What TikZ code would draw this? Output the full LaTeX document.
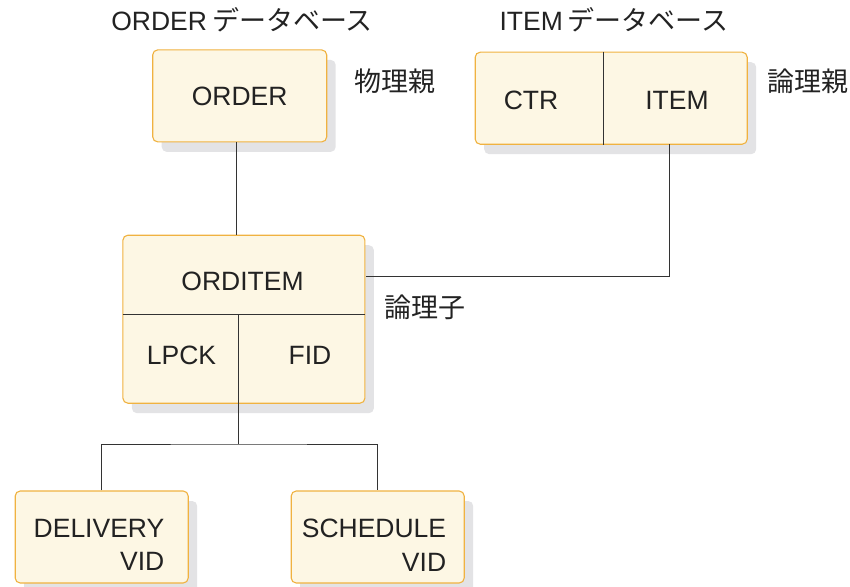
\documentclass[tikz,border=0pt]{standalone}
\usepackage{fontspec}
\setmainfont{Liberation Sans}
\newfontfamily\jpfont{Noto Sans CJK JP}
\usetikzlibrary{shadows}
\definecolor{boxfill}{HTML}{FDF7E4}
\definecolor{boxline}{HTML}{F0B240}
\definecolor{shade}{HTML}{E3E3E5}
\definecolor{ink}{HTML}{222222}
\definecolor{wire}{HTML}{333333}
\tikzset{
  dbbox/.style={draw=boxline, fill=boxfill, line width=1.1pt, rounded corners=5pt,
    drop shadow={shadow xshift=9pt, shadow yshift=-10pt, fill=shade, opacity=1},
    text=ink, font=\fontsize{26.5}{33}\selectfont, inner sep=0pt},
  lbl/.style={text=ink, font=\fontsize{26.5}{30}\selectfont, inner sep=0pt},
  jlbl/.style={text=ink, font=\fontsize{27}{30}\selectfont\jpfont, inner sep=0pt},
  wirestyle/.style={draw=wire, line width=1pt},
}
\begin{document}
\begin{tikzpicture}[x=1pt,y=-1pt]
\useasboundingbox (0,0) rectangle (850,586);
% titles
\node[lbl] (t1) at (242,20) {ORDER\hspace{5pt}{\jpfont\fontsize{27}{30}\selectfont データベース}};
\node[lbl] (t2) at (614,20) {ITEM\hspace{5pt}{\jpfont\fontsize{27}{30}\selectfont データベース}};
% ORDER
\node[dbbox, minimum width=174pt, minimum height=92pt] (order) at (239.7,95.9) {ORDER};
\node[jlbl] (phys) at (395,81) {物理親};
% ITEM db
\node[dbbox, minimum width=272pt, minimum height=92pt] (itembox) at (611.2,98.2) {};
\draw[wirestyle] (itembox.north -| 603.3,0) coordinate (id1) -- (itembox.south -| 603.3,0) coordinate (id2);
\node[lbl] (ctr) at (531,100) {CTR};
\node[lbl] (item) at (677,100) {ITEM};
\node[jlbl] (logp) at (808,81) {論理親};
% ORDITEM
\node[dbbox, minimum width=242pt, minimum height=168pt] (orditem) at (243.9,319.2) {};
\coordinate (hl) at (122.7,314.3);
\coordinate (hr) at (365,314.3);
\draw[wirestyle] (hl) -- (hr);
\coordinate (vd) at (238.3,314.3);
\draw[wirestyle] (vd) -- (orditem.south -| vd);
\node[lbl] (ordt) at (242.5,281.5) {ORDITEM};
\node[lbl] (lpck) at (181.5,355) {LPCK};
\node[lbl] (fid) at (310,355) {FID};
\node[jlbl] (logc) at (425,307) {論理子};
% children
\node[dbbox, minimum width=173pt, minimum height=92pt] (deliv) at (101.7,537) {};
\node[lbl, align=right, font=\fontsize{26.5}{33.5}\selectfont] (delt) at (99,545) {DELIVERY\\VID};
\node[dbbox, minimum width=173pt, minimum height=92pt] (sched) at (377.7,537) {};
\node[lbl, align=right, font=\fontsize{26.5}{33.5}\selectfont] (scht) at (374,545) {SCHEDULE\\VID};
% connectors
\draw[wirestyle] (order.south -| 236.7,0) -- (orditem.north -| 236.7,0);
\coordinate (ic) at (669,144.2);
\coordinate (oe) at (365.5,276);
\draw[wirestyle] (ic) |- (oe);
\coordinate (bus) at (238.3,444);
\draw[wirestyle] (orditem.south -| bus) -- (bus);
\draw[wirestyle] (deliv.north) |- (bus) -| (sched.north);
\end{tikzpicture}
\end{document}
